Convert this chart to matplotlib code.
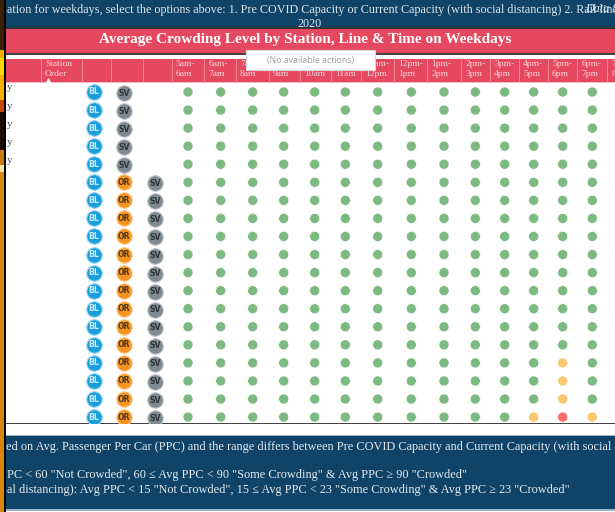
import matplotlib
matplotlib.use("Agg")
import matplotlib.pyplot as plt
from matplotlib.patches import Rectangle

plt.rcParams['font.family'] = ['Liberation Serif', 'DejaVu Serif']

# --- data
time_top = ["5am-", "6am-", "7am-", "8am-", "9am-", "10am-", "11am-", "12pm-", "1pm-", "2pm-", "3pm-", "4pm-", "5pm-", "6pm-", "7pm-"]
time_bottom = ["6am", "7am", "8am", "9am", "10am", "11am", "12pm", "1pm", "2pm", "3pm", "4pm", "5pm", "6pm", "7pm", "8pm"]

# g = not crowded, y = some crowding, r = crowded; one letter per hour 5am..7pm
levels = [
    "gggggggggggggg", "gggggggggggggg", "gggggggggggggg", "gggggggggggggg",
    "gggggggggggggg", "gggggggggggggg", "gggggggggggggg", "gggggggggggggg",
    "gggggggggggggg", "gggggggggggggg", "gggggggggggggg", "gggggggggggggg",
    "gggggggggggggg", "gggggggggggggg", "gggggggggggggg",
    "ggggggggggggyg", "ggggggggggggyg", "ggggggggggggyg", "gggggggggggyry",
]
lines_two = ["BL", "SV"]
lines_three = ["BL", "OR", "SV"]
station_lines = [lines_two] * 5 + [lines_three] * 14
row_suffix = ["y", "y", "y", "y", "y"]

top_text = "ation for weekdays, select the options above: 1. Pre COVID Capacity or Current Capacity (with social distancing) 2. Rail line(s) 3. Date Range."
source_text = "Data So"
title = "Average Crowding Level by Station, Line & Time on Weekdays"
note1 = "ed on Avg. Passenger Per Car (PPC) and the range differs between Pre COVID Capacity and Current Capacity (with social dista"
note2 = 'PC < 60 "Not Crowded", 60 ≤ Avg PPC < 90 "Some Crowding" & Avg PPC ≥ 90 "Crowded"'
note3 = 'al distancing): Avg PPC < 15 "Not Crowded", 15 ≤ Avg PPC < 23 "Some Crowding" & Avg PPC ≥ 23 "Crowded"'

# --- layout, in screenshot pixels
dot_x = [188, 220.7, 252.7, 283.7, 314.7, 345.3, 377.7, 411.3, 444, 475.3, 504.7, 533.7, 562.7, 592.3]
divider_x = [40.7, 81.7, 111.3, 143.3, 171.7, 204.3, 236, 268.7, 300, 330.7, 361.3, 394.3, 427.3, 461.3, 490.3, 519, 548, 577.3, 607.3]
badge_x = [94, 124, 155]
row_y0 = 92
row_step = 18.06

navy = "#0f4468"
red = "#e6495f"
dot_colors = {"g": "#7dba82", "y": "#fbc870", "r": "#f8706a"}
badge_colors = {"BL": "#1a9fdc", "OR": "#f7941d", "SV": "#7d8b90"}
badge_halo = {"BL": "#9ed6f0", "OR": "#fbd0a0", "SV": "#c3cacc"}
badge_text = {"BL": "#cde8f6", "OR": "#4a3a20", "SV": "#2f3538"}

fig = plt.figure(figsize=(6.15, 5.12), dpi=100)
ax = fig.add_axes([0, 0, 1, 1])
ax.set_xlim(0, 615)
ax.set_ylim(512, 0)
ax.axis("off")


def band(x, y, w, h, color, z=1):
    ax.add_patch(Rectangle((x, y), w, h, facecolor=color, edgecolor="none", zorder=z))


# background photo peeking in at the left edge
strip = [(0, 50, "#3a2208"), (50, 58, "#ffb000"), (58, 75, "#ffd800"), (75, 100, "#f8b000"), (100, 112, "#c84a00"),
         (112, 150, "#1a0c00"), (150, 165, "#c87a10"), (165, 172, "#f8e0a0"), (172, 200, "#d88a10"), (200, 512, "#d8860c")]
for y0, y1, c in strip:
    band(0, y0, 4, y1 - y0, c)
band(4, 0, 2, 512, "#000000", 2)

# bands
band(6, 0, 609, 27, navy)
band(6, 27, 609, 1.5, "#333333")
band(6, 28.5, 609, 24.5, red)
band(6, 53, 609, 1.5, "#444444")
band(6, 59, 609, 23, red)
band(6, 82, 609, 1, "#f2bcc3")
band(6, 423, 609, 1, "#444444")
band(6, 436, 609, 73, navy)
band(6, 435, 609, 1, "#9fb4c4")
band(6, 509, 609, 2, "#9fb4c4")

ax.text(7, 9.5, top_text, color="#dfe6ec", fontsize=8.7, va="center", ha="left")
ax.text(585, 9.5, source_text, color="#dfe6ec", fontsize=8.7, va="center", ha="left", style="italic", clip_on=True)
ax.text(310, 24, "2020", color="#dfe6ec", fontsize=8.7, va="center", ha="center", clip_on=True)
ax.text(305, 40, title, color="white", fontsize=11, fontweight="bold", va="center", ha="center", zorder=3)

# header row
for x in divider_x:
    ax.plot([x, x], [59, 82], color="#f08a98", lw=0.7, zorder=2)
ax.text(45, 63.5, "Station", color="#f7d7dc", fontsize=6.8, va="center", zorder=3)
ax.text(45, 73.5, "Order", color="#f7d7dc", fontsize=6.8, va="center", zorder=3)
ax.plot([48], [81], marker="^", ms=3.5, color="white", zorder=3)
time_left = divider_x[4:]
for i, x in enumerate(time_left):
    ax.text(x + 4, 63.5, time_top[i], color="#f7d7dc", fontsize=6.8, va="center", zorder=3)
    ax.text(x + 4, 73.5, time_bottom[i], color="#f7d7dc", fontsize=6.8, va="center", zorder=3)

# table body, cut off at the bottom rule
body_clip = Rectangle((6, 83), 609, 340, transform=ax.transData)
for i, row in enumerate(levels):
    y = row_y0 + i * row_step
    colors = [dot_colors[c] for c in row]
    pts = ax.scatter(dot_x, [y] * len(row), s=52, c=colors, edgecolors="white", linewidths=0.4, zorder=3)
    pts.set_clip_path(body_clip)
    for j, name in enumerate(station_lines[i]):
        by = y + 1 if name == "SV" else y
        b = ax.scatter([badge_x[j]], [by], s=125, c=badge_colors[name], edgecolors=badge_halo[name], linewidths=0.8, zorder=3)
        b.set_clip_path(body_clip)
        t = ax.text(badge_x[j], by, name, color=badge_text[name], fontsize=5.6, fontweight="bold", family="DejaVu Sans",
                    ha="center", va="center", zorder=4)
        t.set_clip_path(body_clip)

for i, s in enumerate(row_suffix):
    ax.text(7, row_y0 + i * row_step - 4, s, color="#555555", fontsize=8, ha="left", va="center", zorder=3)

# bottom notes
ax.text(6, 447, note1, color="#e4eaef", fontsize=8.8, va="center", ha="left")
ax.text(7, 475, note2, color="#e4eaef", fontsize=8.8, va="center", ha="left")
ax.text(7, 489.5, note3, color="#e4eaef", fontsize=8.8, va="center", ha="left")

# tooltip over the header
ax.add_patch(Rectangle((246, 50), 129, 20, facecolor="white", edgecolor="#d8d8d8", lw=0.8, zorder=6))
ax.text(310.5, 60, "(No available actions)", color="#a0a0a0", fontsize=6.3, family="Open Sans", ha="center", va="center", zorder=7)

fig.savefig("out.png", dpi=100)
